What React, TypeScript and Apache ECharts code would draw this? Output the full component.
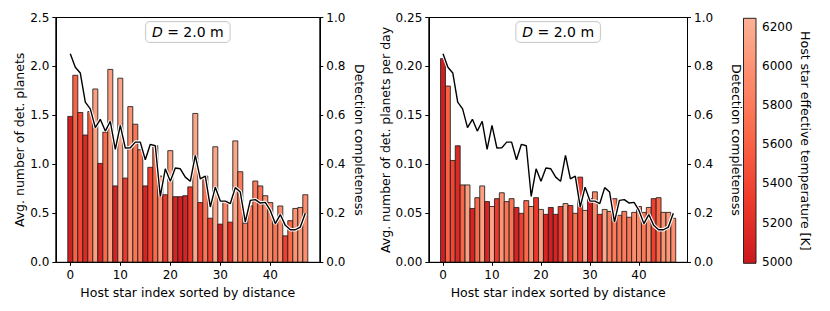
import React, { useEffect, useRef } from "react";
import * as echarts from "echarts";

// ---------------- data ----------------
const starIndex = [
  0, 1, 2, 3, 4, 5, 6, 7, 8, 9, 10, 11, 12, 13, 14, 15, 16, 17, 18, 19, 20, 21, 22, 23,
  24, 25, 26, 27, 28, 29, 30, 31, 32, 33, 34, 35, 36, 37, 38, 39, 40, 41, 42, 43, 44, 45, 46, 47,
];

const avgPlanets = [
  1.49, 1.91, 1.53, 1.3, 1.54, 1.77, 1.01, 1.33, 1.97, 0.78,
  1.88, 0.86, 1.59, 1.41, 1.15, 0.78, 0.97, 1.19, 0.88, 0.69,
  1.14, 0.67, 0.67, 0.68, 0.77, 1.52, 0.61, 0.88, 0.45, 1.18,
  0.39, 0.63, 0.41, 1.24, 0.925, 0.4, 0.575, 0.83, 0.78, 0.68,
  0.61, 0.43, 0.575, 0.27, 0.425, 0.55, 0.56, 0.69,
];

const planetsPerDay = [
  0.208, 0.18, 0.104, 0.119, 0.079, 0.079, 0.055, 0.066, 0.078, 0.062,
  0.057, 0.065, 0.071, 0.062, 0.065, 0.056, 0.05, 0.063, 0.057, 0.066,
  0.054, 0.049, 0.056, 0.049, 0.057, 0.06, 0.058, 0.05, 0.087, 0.053,
  0.065, 0.072, 0.049, 0.054, 0.052, 0.065, 0.048, 0.052, 0.046, 0.051,
  0.057, 0.051, 0.056, 0.065, 0.066, 0.051, 0.051, 0.045,
];

const completeness = [
  0.852, 0.797, 0.773, 0.654, 0.627, 0.55, 0.584, 0.536, 0.576, 0.461,
  0.559, 0.467, 0.468, 0.491, 0.491, 0.419, 0.482, 0.476, 0.269, 0.382,
  0.331, 0.385, 0.382, 0.348, 0.331, 0.437, 0.341, 0.352, 0.226, 0.307,
  0.25, 0.25, 0.24, 0.305, 0.287, 0.165, 0.253, 0.256, 0.242, 0.245,
  0.212, 0.158, 0.195, 0.151, 0.133, 0.133, 0.144, 0.2,
];

const starTemp = [
  5050, 5600, 5400, 5150, 5600, 6100, 5100, 5650, 6100, 5100,
  6150, 5300, 6000, 5750, 5750, 5100, 5350, 5650, 6000, 5300,
  6100, 5100, 5050, 5100, 5300, 6150, 5300, 5750, 5350, 6150,
  5050, 5900, 5250, 6150, 5800, 5800, 5750, 5800, 5750, 5950,
  5900, 5750, 5950, 5350, 5650, 6000, 6050, 5950,
];

const xTicks = [0, 10, 20, 30, 40];
const tempTicks = [5000, 5200, 5400, 5600, 5800, 6000, 6200];
const tempRange = [4992, 6243];
const legendText = "2.0 m";

// ---------------- colormap (matplotlib Reds, truncated) ----------------
const redsStops: [number, number[]][] = [
  [0.25, [252, 187, 161]],
  [0.375, [252, 146, 114]],
  [0.5, [251, 106, 74]],
  [0.625, [239, 59, 44]],
  [0.75, [203, 24, 29]],
];
function reds(p: number): string {
  if (p <= redsStops[0][0]) return `rgb(${redsStops[0][1].join(",")})`;
  for (let k = 1; k < redsStops.length; k++) {
    const [p1, c1] = redsStops[k];
    const [p0, c0] = redsStops[k - 1];
    if (p <= p1) {
      const f = (p - p0) / (p1 - p0);
      const c = c0.map((v, j) => Math.round(v + (c1[j] - v) * f));
      return `rgb(${c.join(",")})`;
    }
  }
  return `rgb(${redsStops[redsStops.length - 1][1].join(",")})`;
}
function tempColor(T: number): string {
  const t = Math.min(1, Math.max(0, (T - tempRange[0]) / (tempRange[1] - tempRange[0])));
  return reds(0.75 - t * 0.47);
}

const FONT = "DejaVu Sans";
const BLACK = "#000";

function barRender(params: any, api: any) {
  const i = api.value(0);
  const v = api.value(1);
  const T = api.value(2);
  const p0 = api.coord([i - 0.5, v]);
  const p1 = api.coord([i + 0.5, 0]);
  return {
    type: "rect",
    shape: { x: p0[0], y: p0[1], width: p1[0] - p0[0], height: p1[1] - p0[1] },
    style: { fill: tempColor(T), stroke: "rgba(30,30,30,0.85)", lineWidth: 1 },
  };
}

function colorbarRender(params: any, api: any) {
  const p0 = api.coord([0, tempRange[1]]);
  const p1 = api.coord([1, tempRange[0]]);
  const stops = [];
  for (let k = 0; k <= 10; k++) {
    const T = tempRange[0] + ((tempRange[1] - tempRange[0]) * k) / 10;
    stops.push({ offset: k / 10, color: tempColor(T) });
  }
  return {
    type: "rect",
    shape: { x: p0[0], y: p0[1], width: p1[0] - p0[0], height: p1[1] - p0[1] },
    style: {
      fill: new echarts.graphic.LinearGradient(0, 1, 0, 0, stops),
      stroke: "#222",
      lineWidth: 1,
    },
  };
}

const axisCommon = {
  axisLine: { show: true, onZero: false, lineStyle: { color: BLACK, width: 1 } },
  axisTick: { show: true, inside: false, length: 3.5, lineStyle: { color: BLACK, width: 1 } },
  splitLine: { show: false },
  nameTextStyle: { fontFamily: FONT, fontSize: 12.5, color: BLACK },
};

function xAxisFor(gridIndex: number) {
  return {
    ...axisCommon,
    type: "value",
    gridIndex,
    min: -2.9,
    max: 49.9,
    axisTick: { ...axisCommon.axisTick, customValues: xTicks },
    axisLabel: {
      customValues: xTicks,
      fontFamily: FONT,
      fontSize: 12,
      color: BLACK,
      margin: 7,
    },
    name: "Host star index sorted by distance",
    nameLocation: "middle",
    nameGap: 20,
  };
}

function yAxisFor(gridIndex: number, max: number, interval: number, digits: number, name: string, position: string, gap: number) {
  return {
    ...axisCommon,
    type: "value",
    gridIndex,
    position,
    min: 0,
    max,
    interval,
    axisLabel: {
      fontFamily: FONT,
      fontSize: 12,
      color: BLACK,
      margin: 6.5,
      formatter: (v: number) => v.toFixed(digits),
    },
    name,
    nameLocation: "middle",
    nameRotate: position === "left" ? 90 : -90,
    nameGap: gap,
  };
}

export default function App() {
  const ref = useRef<HTMLDivElement>(null);
  useEffect(() => {
    if (!ref.current) return;
    const chart = echarts.init(ref.current, undefined, { renderer: "svg" });

    const leftBars = starIndex.map((i, k) => [i, avgPlanets[k], starTemp[k]]);
    const rightBars = starIndex.map((i, k) => [i, planetsPerDay[k], starTemp[k]]);
    const compLine = starIndex.map((i, k) => [i, completeness[k]]);

    const grids = [
      { left: 55.8, top: 17.5, width: 264, height: 244.8 },
      { left: 428.8, top: 17.5, width: 258.7, height: 244.8 },
      { left: 743.5, top: 18.3, width: 12.5, height: 245 },
    ];

    const legendBox = (cx: number) => ({
      type: "text",
      x: cx,
      y: 32,
      style: {
        text: `{it|D} = ${legendText}`,
        align: "center",
        verticalAlign: "middle",
        font: `14px '${FONT}'`,
        fill: BLACK,
        backgroundColor: "rgba(255,255,255,0.85)",
        borderColor: "#cccccc",
        borderWidth: 1,
        borderRadius: 4,
        padding: [3, 6, 3, 6],
        rich: {
          it: { fontStyle: "italic", fontFamily: FONT, fontSize: 14, fill: BLACK },
        },
      },
      z: 100,
    });

    const boxes = grids.slice(0, 2).map((g) => ({
      type: "rect",
      shape: { x: g.left, y: g.top, width: g.width, height: g.height },
      style: { fill: "none", stroke: BLACK, lineWidth: 1 },
      z: 50,
      silent: true,
    }));

    chart.setOption({
      animation: false,
      backgroundColor: "#fff",
      grid: grids.map((g) => ({ ...g, show: false })),
      xAxis: [
        xAxisFor(0),
        xAxisFor(1),
        { type: "value", gridIndex: 2, min: 0, max: 1, show: false },
      ],
      yAxis: [
        yAxisFor(0, 2.5, 0.5, 1, "Avg. number of det. planets", "left", 29),
        yAxisFor(0, 1.0, 0.2, 1, "Detection completeness", "right", 33),
        yAxisFor(1, 0.25, 0.05, 2, "Avg. number of det. planets per day", "left", 37),
        yAxisFor(1, 1.0, 0.2, 1, "Detection completeness", "right", 42),
        {
          ...axisCommon,
          type: "value",
          gridIndex: 2,
          position: "right",
          min: tempRange[0],
          max: tempRange[1],
          axisLine: { show: false },
          axisTick: { ...axisCommon.axisTick, customValues: tempTicks },
          axisLabel: {
            customValues: tempTicks,
            fontFamily: FONT,
            fontSize: 12,
            color: BLACK,
            margin: 6,
            formatter: (v: number) => String(v),
          },
          name: "Host star effective temperature [K]",
          nameLocation: "middle",
          nameRotate: -90,
          nameGap: 43,
        },
      ],
      series: [
        { type: "custom", xAxisIndex: 0, yAxisIndex: 0, renderItem: barRender, data: leftBars, z: 2 },
        {
          type: "line", xAxisIndex: 0, yAxisIndex: 1, data: compLine, showSymbol: false, z: 3,
          lineStyle: { color: "#fff", width: 3.5 }, silent: true,
        },
        {
          type: "line", xAxisIndex: 0, yAxisIndex: 1, data: compLine, showSymbol: false, z: 4,
          lineStyle: { color: "#000", width: 1.4 }, silent: true,
        },
        { type: "custom", xAxisIndex: 1, yAxisIndex: 2, renderItem: barRender, data: rightBars, z: 2 },
        {
          type: "line", xAxisIndex: 1, yAxisIndex: 3, data: compLine, showSymbol: false, z: 3,
          lineStyle: { color: "#fff", width: 3.5 }, silent: true,
        },
        {
          type: "line", xAxisIndex: 1, yAxisIndex: 3, data: compLine, showSymbol: false, z: 4,
          lineStyle: { color: "#000", width: 1.4 }, silent: true,
        },
        {
          type: "custom", xAxisIndex: 2, yAxisIndex: 4, renderItem: colorbarRender,
          data: [[0, tempRange[0]]], z: 2,
        },
      ],
      graphic: [legendBox(55.8 + 264 / 2), legendBox(428.8 + 258.7 / 2), ...boxes],
    });

    return () => chart.dispose();
  }, []);

  return (
    <div
      ref={ref}
      style={{ position: "fixed", left: 0, top: 0, width: 830, height: 311 }}
    />
  );
}
